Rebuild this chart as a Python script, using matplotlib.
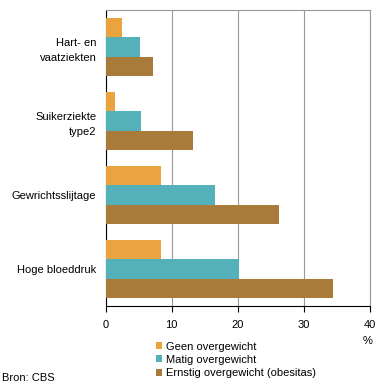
import matplotlib
matplotlib.use("Agg")
import matplotlib.pyplot as plt
import numpy as np
from matplotlib.patches import Patch

categories = ["Hart- en\nvaatziekten", "Suikerziekte\ntype2", "Gewrichtsslijtage", "Hoge bloeddruk"]
series_names = ["Geen overgewicht", "Matig overgewicht", "Ernstig overgewicht (obesitas)"]
geen = [2.5, 1.4, 8.4, 8.4]
matig = [5.2, 5.4, 16.6, 20.2]
ernstig = [7.2, 13.2, 26.3, 34.4]
xticks = [0, 10, 20, 30, 40]

colors = ["#E9A33F", "#55B1B9", "#A87B3A"]

plt.rcParams['font.family'] = ['Liberation Sans', 'DejaVu Sans']
fs = 8

fig = plt.figure(figsize=(3.84, 3.87), dpi=100)
ax = fig.add_axes([105.5/384, 1-306/387, 264/384, 296/387])

y = np.arange(len(categories))
h = 0.26
for i, (vals, c) in enumerate(zip([geen, matig, ernstig], colors)):
    ax.barh(y + (i-1)*h, vals, height=h, color=c, zorder=3)

ax.set_xlim(0, 40)
ax.set_ylim(len(categories)-0.5, -0.5)
ax.set_xticks(xticks)
ax.set_xticklabels([str(t) for t in xticks], fontsize=fs)
ax.set_yticks(y)
ax.set_yticklabels(categories, fontsize=fs, linespacing=1.6)
ax.tick_params(axis='y', length=0, pad=6.5)
ax.tick_params(axis='x', length=4, width=0.8, color='black', pad=6, direction='out')
ax.grid(axis='x', color='#999999', linewidth=0.8, zorder=0)
ax.spines['left'].set_color('black')
ax.spines['bottom'].set_color('black')
ax.spines['top'].set_color('#999999')
ax.spines['right'].set_color('#999999')
for s in ax.spines.values():
    s.set_linewidth(0.8)

fig.text(368/384, 1-341/387, "%", fontsize=fs, ha='center', va='center')
fig.text(2/384, 1-378/387, "Bron: CBS", fontsize=fs, ha='left', va='center')

handles = [Patch(facecolor=c, edgecolor='none') for c in colors]
fig.legend(handles, series_names, loc='upper left', bbox_to_anchor=(155.5/384, 1-341.5/387),
           frameon=False, fontsize=fs, handlelength=0.6, handleheight=0.6,
           handletextpad=0.3, labelspacing=0.3, borderpad=0, borderaxespad=0)

fig.savefig("out.png", dpi=100)
